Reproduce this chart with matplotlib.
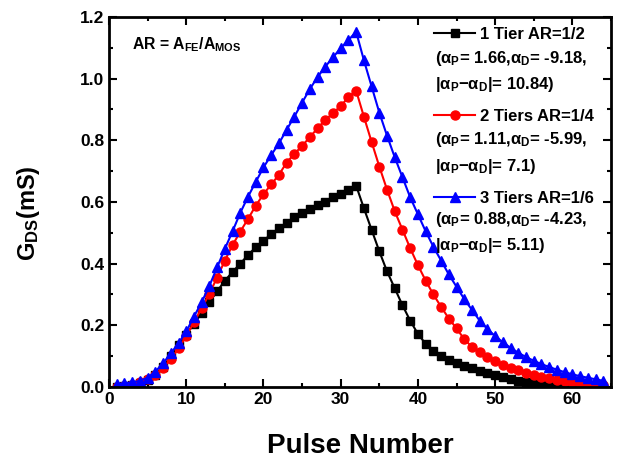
import matplotlib
matplotlib.use("Agg")
import matplotlib.pyplot as plt
from matplotlib.ticker import MultipleLocator
import numpy as np

plt.rcParams['font.family'] = ['Liberation Sans', 'DejaVu Sans']
plt.rcParams['font.weight'] = 'bold'
plt.rcParams['mathtext.fontset'] = 'custom'
plt.rcParams['mathtext.rm'] = 'Liberation Sans:bold'
plt.rcParams['mathtext.it'] = 'Liberation Sans:bold'
plt.rcParams['mathtext.bf'] = 'Liberation Sans:bold'

# pulse index 1..64 (1-32 potentiation, 33-64 depression)
pulses = np.arange(1, 65)

tier1 = [0.0, 0.002, 0.006, 0.012, 0.022, 0.04, 0.065, 0.1, 0.135, 0.17,
         0.205, 0.24, 0.275, 0.31, 0.345, 0.373, 0.4, 0.428, 0.453, 0.475,
         0.495, 0.515, 0.533, 0.55, 0.565, 0.578, 0.59, 0.601, 0.615, 0.627,
         0.64, 0.653,
         0.58, 0.51, 0.44, 0.375, 0.32, 0.265, 0.215, 0.172, 0.14, 0.117,
         0.1, 0.088, 0.077, 0.068, 0.06, 0.052, 0.045, 0.038, 0.032, 0.026,
         0.021, 0.016, 0.012, 0.008, 0.005, 0.003, 0.001, 0.0, 0.0, 0.0,
         0.0, 0.0]

tier2 = [0.0, 0.003, 0.008, 0.015, 0.025, 0.04, 0.062, 0.09, 0.125, 0.165,
         0.21, 0.255, 0.303, 0.355, 0.41, 0.46, 0.504, 0.545, 0.588, 0.625,
         0.657, 0.688, 0.728, 0.756, 0.782, 0.81, 0.839, 0.866, 0.888, 0.911,
         0.94, 0.961,
         0.877, 0.795, 0.715, 0.64, 0.57, 0.51, 0.45, 0.395, 0.345, 0.3,
         0.26, 0.222, 0.19, 0.155, 0.13, 0.112, 0.097, 0.084, 0.072, 0.062,
         0.054, 0.046, 0.039, 0.033, 0.028, 0.023, 0.019, 0.015, 0.012, 0.009,
         0.007, 0.005]

tier3 = [0.01, 0.012, 0.015, 0.02, 0.03, 0.05, 0.077, 0.109, 0.142, 0.18,
         0.228, 0.275, 0.328, 0.388, 0.448, 0.505, 0.565, 0.617, 0.665, 0.712,
         0.752, 0.79, 0.834, 0.877, 0.922, 0.966, 1.005, 1.039, 1.069, 1.099,
         1.125, 1.152,
         1.06, 0.975, 0.89, 0.815, 0.745, 0.68, 0.615, 0.56, 0.505, 0.455,
         0.41, 0.365, 0.325, 0.285, 0.25, 0.215, 0.188, 0.165, 0.145, 0.127,
         0.111, 0.097, 0.085, 0.074, 0.065, 0.056, 0.048, 0.041, 0.035, 0.03,
         0.025, 0.02]

labels = ['1 Tier AR=1/2', '2 Tiers AR=1/4', '3 Tiers AR=1/6']
alpha_p = ['1.66', '1.11', '0.88']
alpha_d = ['-9.18', '-5.99', '-4.23']
alpha_diff = ['10.84', '7.1', '5.11']

fig = plt.figure(figsize=(6.25, 4.59), dpi=100)
ax = fig.add_axes([0.1744, 0.1569, 0.8032, 0.8061])

l1, = ax.plot(pulses, tier1, '-s', color='black', lw=1.5, ms=5.5)
l2, = ax.plot(pulses, tier2, '-o', color='red', lw=1.5, ms=6.5)
l3, = ax.plot(pulses, tier3, '-^', color='blue', lw=1.5, ms=7)

ax.set_xlim(0, 65)
ax.set_ylim(0, 1.2)
ax.xaxis.set_major_locator(MultipleLocator(10))
ax.xaxis.set_minor_locator(MultipleLocator(5))
ax.yaxis.set_major_locator(MultipleLocator(0.2))
ax.yaxis.set_minor_locator(MultipleLocator(0.1))
ax.tick_params(which='both', direction='in', top=True, right=True, width=1.5)
ax.tick_params(which='major', length=6, labelsize=12.5)
ax.tick_params(which='minor', length=3)
ax.yaxis.set_major_formatter(plt.FormatStrFormatter('%.1f'))
for s in ax.spines.values():
    s.set_linewidth(2)

ax.set_xlabel('Pulse Number', fontsize=20, fontweight='bold', labelpad=19)
ax.set_ylabel('G$_{DS}$(mS)', fontsize=17, fontweight='bold')
ax.yaxis.set_label_coords(-0.133, 0.47)

ax.text(0.045, 0.925, 'AR = A$_{FE}$/A$_{MOS}$', transform=ax.transAxes,
        fontsize=11.3, fontweight='bold', va='center')

leg = ax.legend([l1, l2, l3], labels, loc='upper left',
                bbox_to_anchor=(0.647, 0.974), frameon=False,
                prop={'size': 12, 'weight': 'bold'}, handlelength=2.5,
                handletextpad=0.3, labelspacing=4.02, borderpad=0,
                borderaxespad=0)

rows = [(0.887, 0.817), (0.668, 0.597), (0.452, 0.382)]
for i in range(3):
    ax.text(0.649, rows[i][0],
            '(α$_P$= ' + alpha_p[i] + ',α$_D$= ' + alpha_d[i] + ',',
            transform=ax.transAxes, fontsize=12, fontweight='bold', va='center')
    ax.text(0.649, rows[i][1],
            '|α$_P$−α$_D$|= ' + alpha_diff[i] + ')',
            transform=ax.transAxes, fontsize=12, fontweight='bold', va='center')

fig.savefig('out.png', dpi=100)
